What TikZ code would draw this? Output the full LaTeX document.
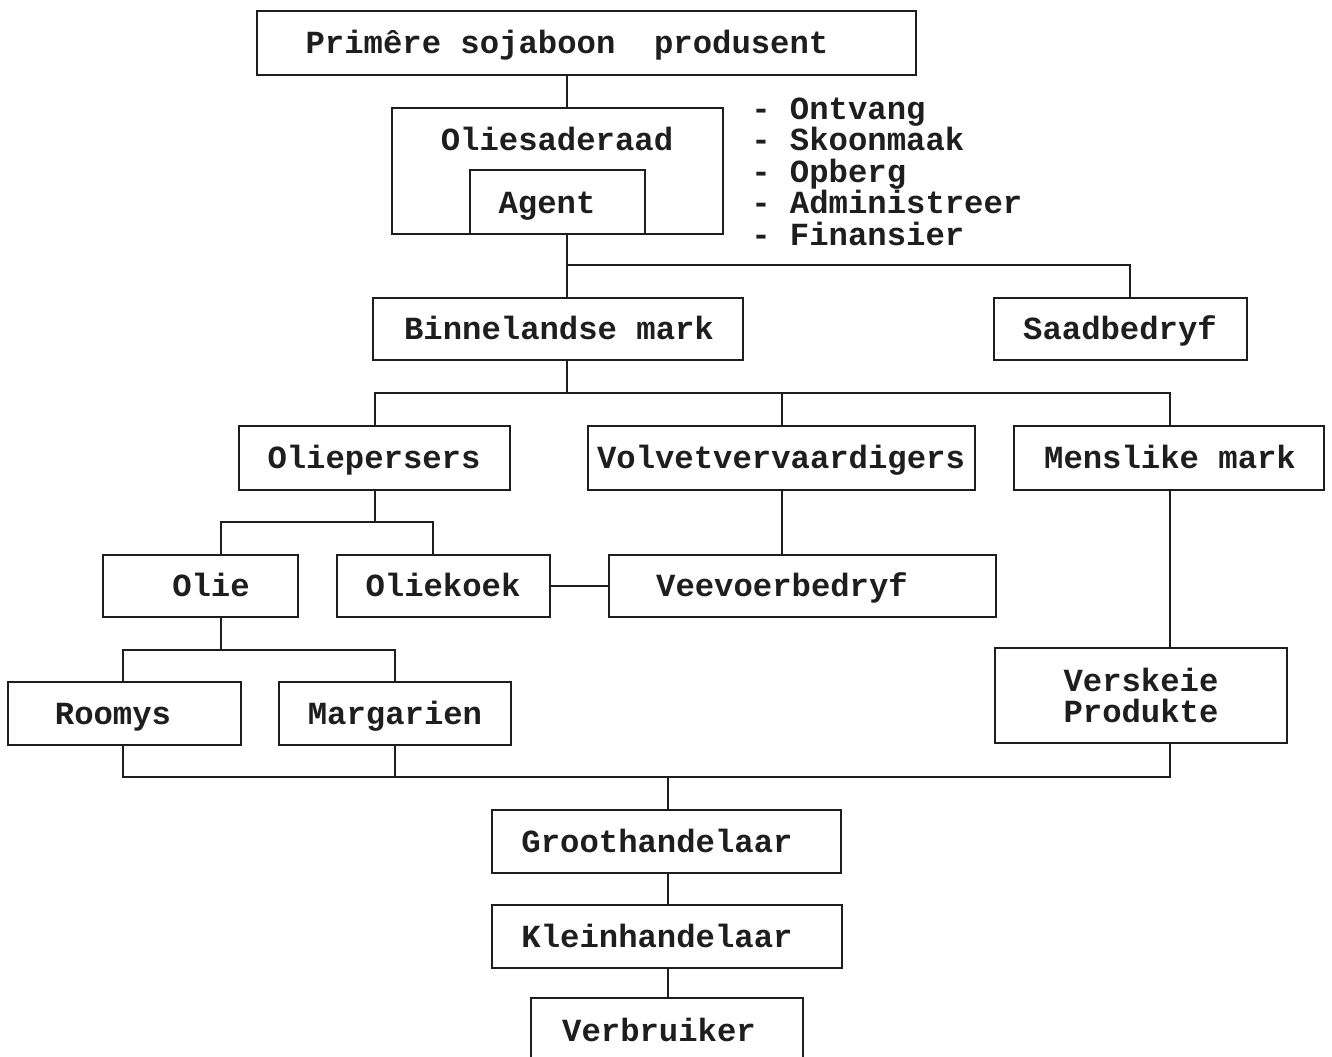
\documentclass[tikz,border=0pt]{standalone}
\usepackage{fontspec}
\setmonofont{Liberation Mono}
\usetikzlibrary{fit}
\definecolor{ink}{HTML}{1E1E1E}
\begin{document}
\begin{tikzpicture}[x=0.75pt,y=-0.75pt,
  box/.style={draw=ink, line width=1.5pt, inner sep=0pt, rectangle},
  wire/.style={draw=ink, line width=1.2pt},
  lbl/.style={font=\ttfamily\bfseries\fontsize{24.2}{29}\selectfont, text=ink, inner sep=0pt, anchor=base},
  item/.style={lbl, anchor=base west}]
\useasboundingbox (0,0) rectangle (1332,1057);
\clip (0,0) rectangle (1332,1057);

% boxes
\node[box, fit={(257,11) (916,75)}]    (prod)  {};
\node[box, fit={(392,108) (723,234)}]  (ols)   {};
\node[box, fit={(470,170) (645,234)}]  (agent) {};
\node[box, fit={(373,298) (743,360)}]  (binn)  {};
\node[box, fit={(994,298) (1247,360)}] (saad)  {};
\node[box, fit={(239,426) (510,490)}]  (opers) {};
\node[box, fit={(588,426) (975,490)}]  (volv)  {};
\node[box, fit={(1014,426) (1324,490)}] (mens) {};
\node[box, fit={(103,555) (298,617)}]  (olie)  {};
\node[box, fit={(337,555) (550,617)}]  (koek)  {};
\node[box, fit={(609,555) (996,617)}]  (veev)  {};
\node[box, fit={(995,648) (1287,743)}] (vers)  {};
\node[box, fit={(8,682) (241,745)}]    (room)  {};
\node[box, fit={(279,682) (511,745)}]  (marg)  {};
\node[box, fit={(492,810) (841,873)}]  (groot) {};
\node[box, fit={(492,905) (842,968)}]  (klein) {};
\node[box, fit={(531,998) (803,1080)}] (verb)  {};

% labels
\node[lbl] (prod-t)  at (567,53)  {Primêre sojaboon~~produsent};
\node[lbl] (ols-t)   at (557,150) {Oliesaderaad};
\node[lbl] (agent-t) at (547,213) {Agent};
\node[lbl] (binn-t)  at (559,339) {Binnelandse mark};
\node[lbl] (saad-t)  at (1120,339) {Saadbedryf};
\node[lbl] (opers-t) at (374,468) {Oliepersers};
\node[lbl] (volv-t)  at (781,468) {Volvetvervaardigers};
\node[lbl] (mens-t)  at (1170,468) {Menslike mark};
\node[lbl] (olie-t)  at (211,596) {Olie};
\node[lbl] (koek-t)  at (443,596) {Oliekoek};
\node[lbl] (veev-t)  at (782,596) {Veevoerbedryf};
\node[lbl] (vers-t1) at (1141,691) {Verskeie};
\node[lbl] (vers-t2) at (1141,722) {Produkte};
\node[lbl] (room-t)  at (113,724) {Roomys};
\node[lbl] (marg-t)  at (395,724) {Margarien};
\node[lbl] (groot-t) at (657,852) {Groothandelaar};
\node[lbl] (klein-t) at (657,947) {Kleinhandelaar};
\node[lbl] (verb-t)  at (659,1041) {Verbruiker};

% duties of the board
\node[item] (d1) at (751,119) {- Ontvang};
\node[item] (d2) at (751,150) {- Skoonmaak};
\node[item] (d3) at (751,182) {- Opberg};
\node[item] (d4) at (751,213) {- Administreer};
\node[item] (d5) at (751,245) {- Finansier};

% junction points
\coordinate (j0)  at (567,265);
\coordinate (j0r) at (1130,265);
\coordinate (j1)  at (567,393);
\coordinate (j1l) at (375,393);
\coordinate (j1m) at (782,393);
\coordinate (j1r) at (1170,393);
\coordinate (j2)  at (375,522);
\coordinate (j2l) at (221,522);
\coordinate (j2r) at (433,522);
\coordinate (j3)  at (221,650);
\coordinate (j3l) at (123,650);
\coordinate (j3r) at (395,650);
\coordinate (j4l) at (123,777);
\coordinate (j4m) at (395,777);
\coordinate (j4)  at (668,777);
\coordinate (j4r) at (1170,777);

% connectors
\draw[wire] (prod.south -| j0) -- (ols.north -| j0);
\draw[wire] (agent.south -| j0) -- (j0) -- (j0r) -- (j0r |- saad.north);
\draw[wire] (j0) -- (binn.north -| j0);
\draw[wire] (binn.south -| j1) -- (j1);
\draw[wire] (opers.north -| j1l) -- (j1l) -- (j1r) -- (mens.north -| j1r);
\draw[wire] (j1m) -- (volv.north -| j1m);
\draw[wire] (opers.south -| j2) -- (j2);
\draw[wire] (olie.north -| j2l) -- (j2l) -- (j2r) -- (koek.north -| j2r);
\draw[wire] (koek.east) -- (veev.west);
\draw[wire] (volv.south -| j1m) -- (veev.north -| j1m);
\draw[wire] (mens.south -| j1r) -- (vers.north -| j1r);
\draw[wire] (olie.south -| j3) -- (j3);
\draw[wire] (room.north -| j3l) -- (j3l) -- (j3r) -- (marg.north -| j3r);
\draw[wire] (room.south -| j4l) -- (j4l) -- (j4r) -- (vers.south -| j4r);
\draw[wire] (marg.south -| j4m) -- (j4m);
\draw[wire] (j4) -- (groot.north -| j4);
\draw[wire] (groot.south -| j4) -- (klein.north -| j4);
\draw[wire] (klein.south -| j4) -- (verb.north -| j4);
\end{tikzpicture}
\end{document}
